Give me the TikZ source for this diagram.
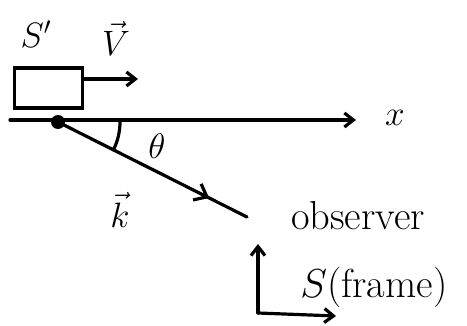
\documentclass[tikz,border=0pt]{standalone}
\usepackage{amsmath}
\usepackage{tikz}
\usetikzlibrary{arrows.meta, positioning, calc, decorations.markings}

\begin{document}
\begin{tikzpicture}[
    x=1pt, y=-1pt,
    ink/.style={line width=3.2pt, line cap=round, line join=round},
    arrow/.style={ink, -{Straight Barb[length=9pt, width=14pt, line width=3.2pt]}},
    frame/.style={rectangle, draw, line width=3.2pt, minimum width=68pt, minimum height=40pt, inner sep=0pt},
    dot/.style={circle, fill, inner sep=0pt, minimum size=14pt},
    lbl/.style={font=\huge, scale=1.7, transform shape, inner sep=1pt},
    word/.style={font=\huge, scale=1.95, transform shape, inner sep=1pt},
    midbarb/.style={postaction={decorate, decoration={markings, mark=at position 0.8 with {\arrow{Straight Barb[length=11pt, width=18pt, line width=3.2pt]}}}}},
]
\useasboundingbox (0,0) rectangle (467,326);

% === Moving frame S' ===
\node[frame] (sprime) at (48.5, 88) {};
\coordinate (vtip) at (138, 79);
\node[lbl] (sprimelbl) at (36, 34) {$S'$};
\node[lbl] (vlbl) at (116, 38) {$\vec{V}$};

% === x axis ===
\coordinate (xstart) at (10, 120);
\coordinate (xend) at (356, 120);
\node[lbl] (xlbl) at (395, 118) {$x$};

% === Line to observer ===
\coordinate (obsend) at (247, 217);
\node[lbl] (theta) at (157, 146) {$\theta$};
\node[lbl] (klbl) at (120, 210) {$\vec{k}$};
\node[word] (observer) at (358, 216) {observer};

% === Frame S axes ===
\coordinate (origin) at (258, 313);
\coordinate (ytip) at (258, 244);
\coordinate (xtip) at (336, 316);
\node[word, anchor=west] (slbl) at (298, 287) {$S$(frame)};

% === Arrows ===
\draw[arrow] (sprime.east |- 0,79) -- (vtip);
\draw[arrow] (xstart) -- (xend);
\node[dot] (src) at (58, 122) {};
\draw[ink, midbarb] (src.center) -- (obsend);
\draw[ink] ($(src.center)+(62,0)$) arc[start angle=0, end angle=26.9, radius=62];
\draw[arrow] (origin) -- (ytip);
\draw[arrow] (origin) -- (xtip);

\end{tikzpicture}
\end{document}
